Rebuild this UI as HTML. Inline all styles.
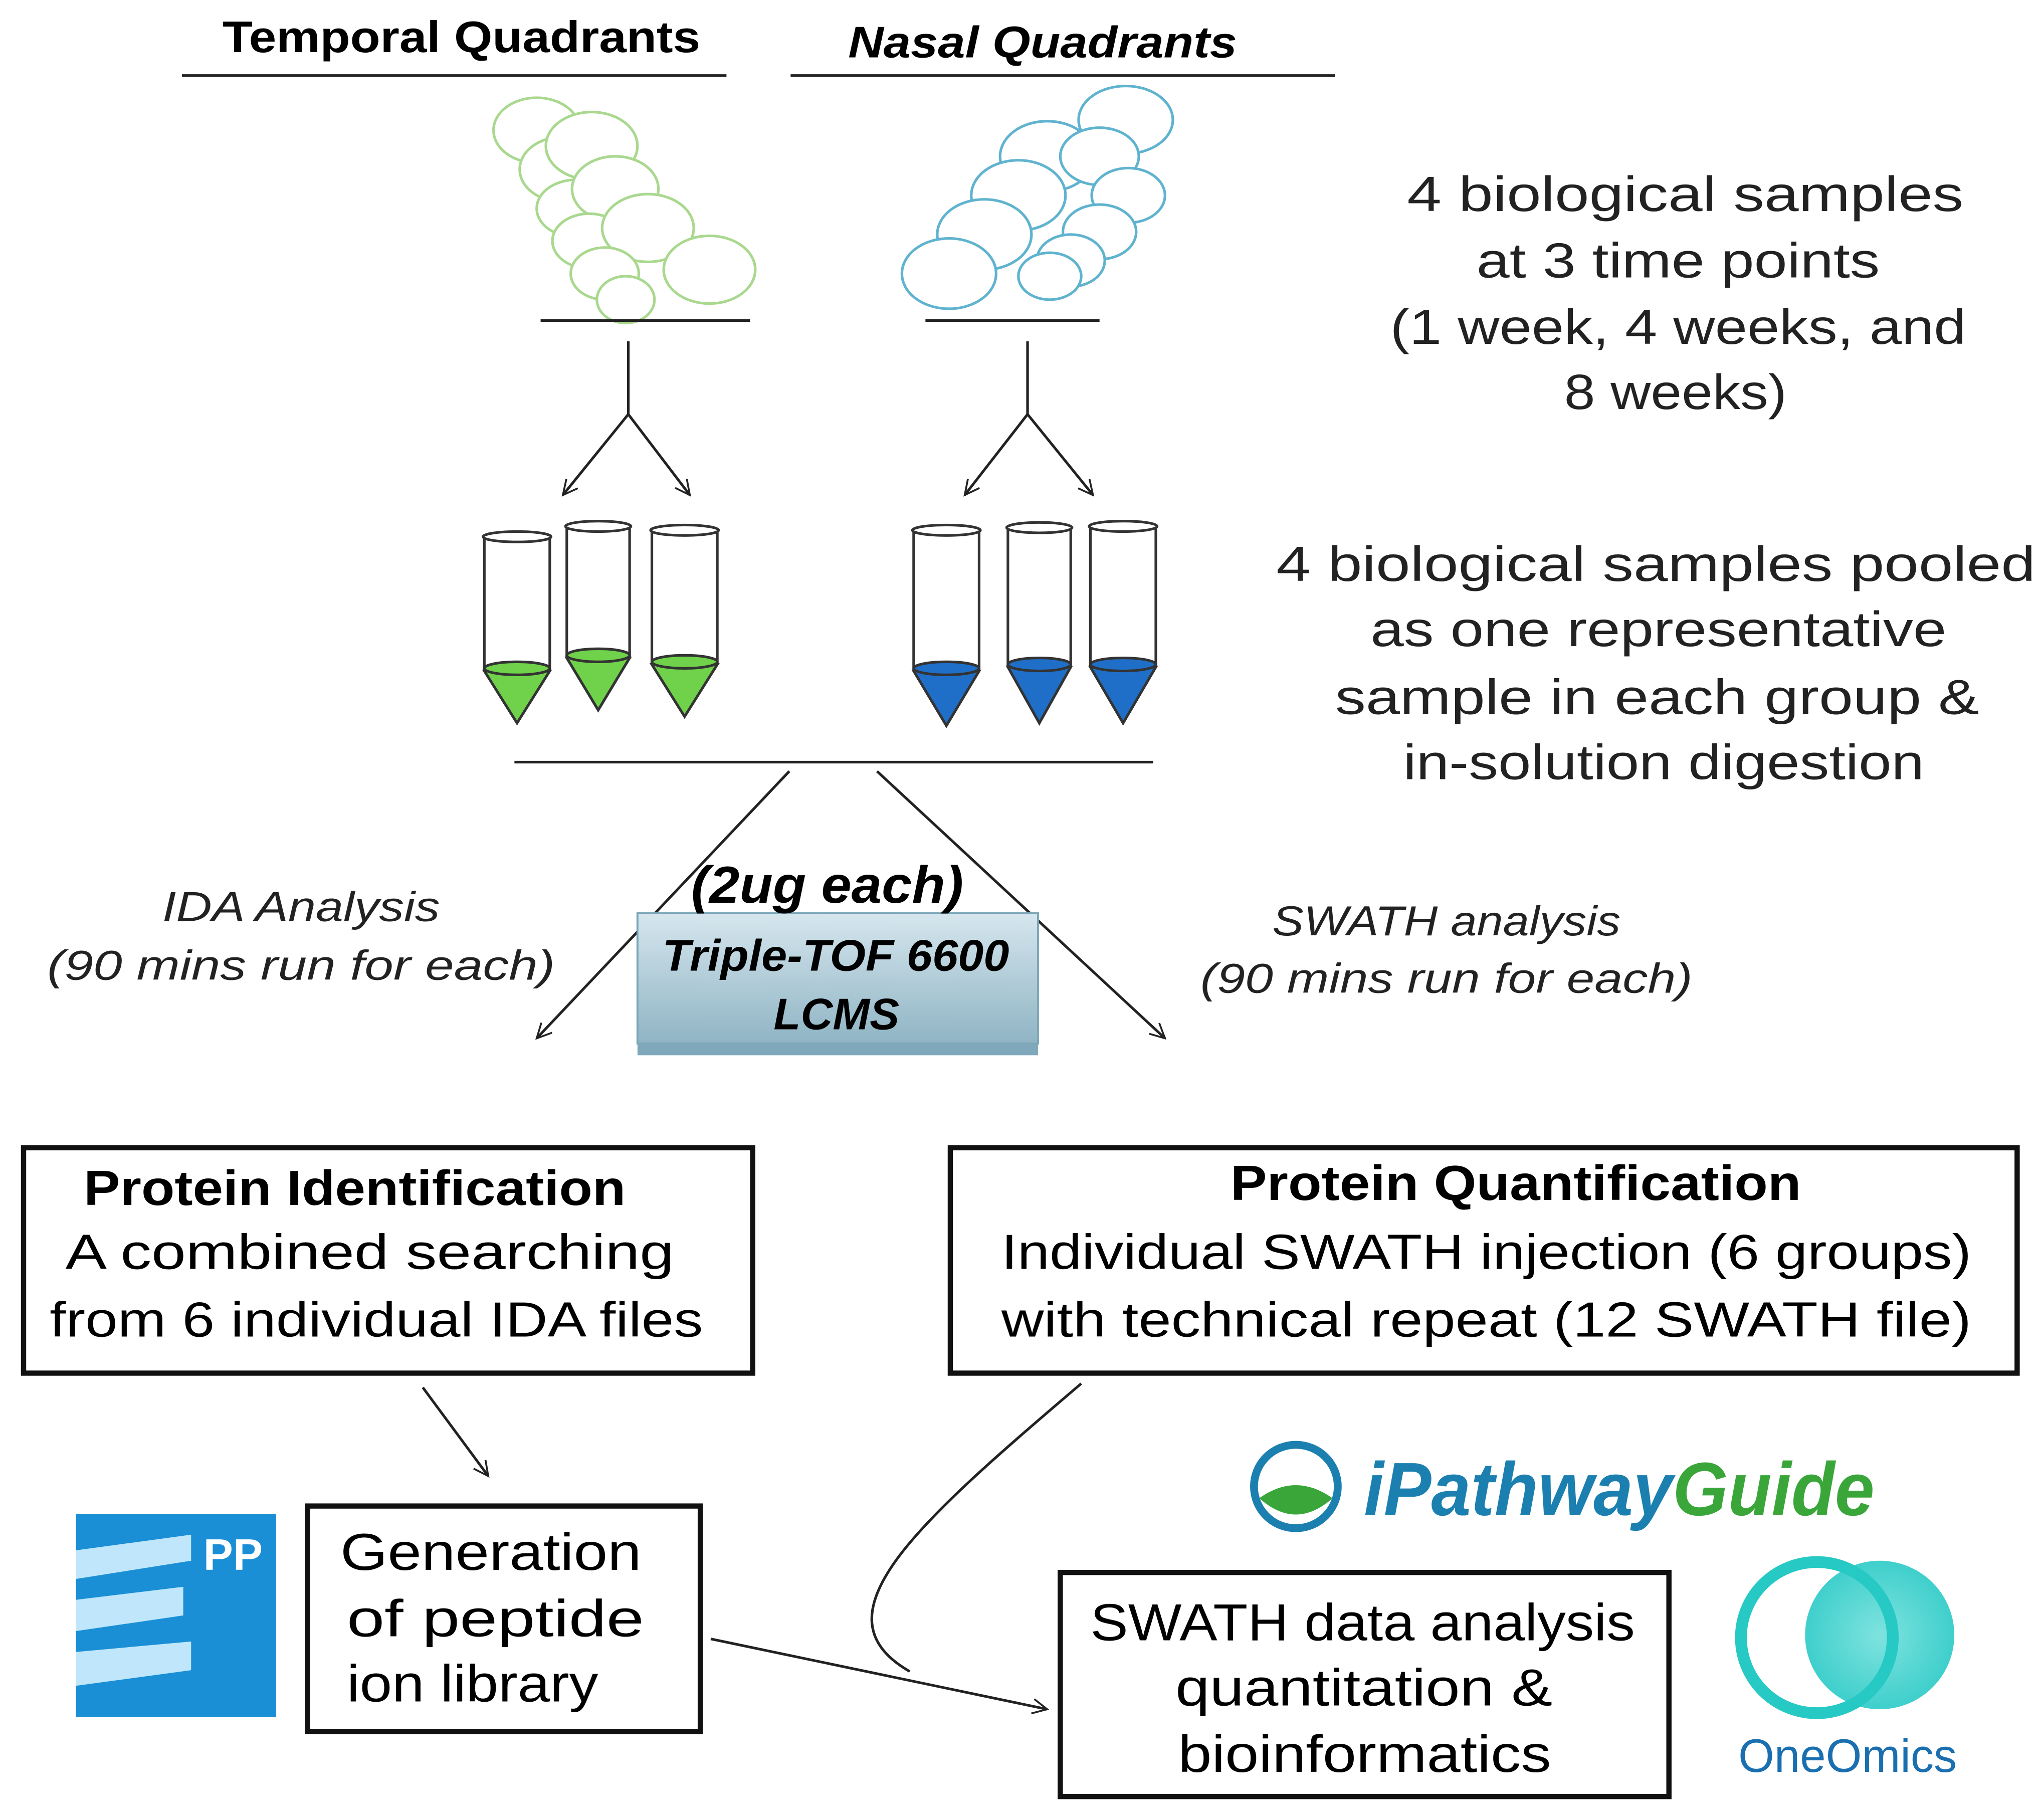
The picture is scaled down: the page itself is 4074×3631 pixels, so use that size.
<!DOCTYPE html>
<html><head><meta charset="utf-8"><style>
html,body{margin:0;padding:0;background:#fff;}
svg{display:block;}
text{font-family:"Liberation Sans",sans-serif;}
</style></head><body>
<svg width="4074" height="3631" viewBox="0 0 1560 1397" preserveAspectRatio="none" xmlns="http://www.w3.org/2000/svg">
<defs>
<marker id="ah" viewBox="0 0 20 20" refX="18" refY="10" markerWidth="14" markerHeight="14" orient="auto" markerUnits="userSpaceOnUse">
<path d="M2,2 L18,10 L2,18" fill="none" stroke="#222" stroke-width="2"/></marker>
<linearGradient id="bx" x1="0" y1="0" x2="0" y2="1"><stop offset="0" stop-color="#d6e6ee"/><stop offset="1" stop-color="#8fb4c4"/></linearGradient>
<radialGradient id="om" cx="0.5" cy="0.5" r="0.5"><stop offset="0" stop-color="#7fe3df"/><stop offset="1" stop-color="#3fcfcc"/></radialGradient>
</defs>
<g lengthAdjust="spacingAndGlyphs">
<text x="170" y="40" font-size="34" font-weight="bold" textLength="365" lengthAdjust="spacingAndGlyphs">Temporal Quadrants</text>
<text x="648" y="44" font-size="34" font-weight="bold" font-style="italic" textLength="297" lengthAdjust="spacingAndGlyphs">Nasal Quadrants</text>
</g>
<line x1="139" y1="58" x2="555" y2="58" stroke="#222" stroke-width="2"/>
<line x1="604" y1="58" x2="1020" y2="58" stroke="#222" stroke-width="2"/>
<!-- green discs -->
<g fill="#fff" stroke="#a9d88e" stroke-width="2">
<ellipse cx="410" cy="100" rx="33" ry="25"/><ellipse cx="430" cy="130" rx="33" ry="25"/><ellipse cx="452" cy="112" rx="35" ry="26"/>
<ellipse cx="440" cy="160" rx="30" ry="22"/><ellipse cx="470" cy="145" rx="33" ry="25"/><ellipse cx="450" cy="185" rx="28" ry="21"/>
<ellipse cx="495" cy="175" rx="35" ry="26"/><ellipse cx="462" cy="210" rx="26" ry="20"/><ellipse cx="542" cy="207" rx="35" ry="26"/><ellipse cx="478" cy="230" rx="22" ry="18"/>
</g>
<line x1="413" y1="246" x2="573" y2="246" stroke="#222" stroke-width="2"/>
<g fill="#fff" stroke="#5fb3cf" stroke-width="2">
<ellipse cx="860" cy="92" rx="36" ry="26"/><ellipse cx="800" cy="120" rx="36" ry="27"/><ellipse cx="840" cy="120" rx="30" ry="22"/>
<ellipse cx="778" cy="150" rx="36" ry="27"/><ellipse cx="862" cy="150" rx="28" ry="21"/><ellipse cx="752" cy="180" rx="36" ry="27"/>
<ellipse cx="840" cy="178" rx="28" ry="21"/><ellipse cx="725" cy="210" rx="36" ry="27"/><ellipse cx="818" cy="200" rx="26" ry="20"/><ellipse cx="802" cy="212" rx="24" ry="18"/>
</g>
<line x1="707" y1="246" x2="840" y2="246" stroke="#222" stroke-width="2"/>
<g stroke="#222" stroke-width="2" fill="none">
<path d="M480,262 V318"/><path d="M480,318 L430,380" marker-end="url(#ah)"/><path d="M480,318 L527,380" marker-end="url(#ah)"/>
<path d="M785,262 V318"/><path d="M785,318 L737,380" marker-end="url(#ah)"/><path d="M785,318 L835,380" marker-end="url(#ah)"/>
</g>
<g stroke="#333" stroke-width="2">
<g fill="#6fd24a">
<path d="M370,412 V515 L395,555 L420,515 V412" fill="#fff"/><path d="M370,515 L395,555 L420,515 Z"/><ellipse cx="395" cy="412" rx="26" ry="4" fill="#fff"/><ellipse cx="395" cy="513" rx="25" ry="5"/>
<path d="M433,404 V505 L457,545 L481,505 V404" fill="#fff"/><path d="M433,505 L457,545 L481,505 Z"/><ellipse cx="457" cy="404" rx="25" ry="4" fill="#fff"/><ellipse cx="457" cy="503" rx="24" ry="5"/>
<path d="M498,407 V510 L523,550 L548,510 V407" fill="#fff"/><path d="M498,510 L523,550 L548,510 Z"/><ellipse cx="523" cy="407" rx="26" ry="4" fill="#fff"/><ellipse cx="523" cy="508" rx="25" ry="5"/>
</g>
<g fill="#1f6fc8">
<path d="M698,407 V515 L723,557 L748,515 V407" fill="#fff"/><path d="M698,515 L723,557 L748,515 Z"/><ellipse cx="723" cy="407" rx="26" ry="4" fill="#fff"/><ellipse cx="723" cy="513" rx="25" ry="5"/>
<path d="M770,405 V512 L794,555 L818,512 V405" fill="#fff"/><path d="M770,512 L794,555 L818,512 Z"/><ellipse cx="794" cy="405" rx="25" ry="4" fill="#fff"/><ellipse cx="794" cy="510" rx="24" ry="5"/>
<path d="M833,404 V512 L858,555 L883,512 V404" fill="#fff"/><path d="M833,512 L858,555 L883,512 Z"/><ellipse cx="858" cy="404" rx="26" ry="4" fill="#fff"/><ellipse cx="858" cy="510" rx="25" ry="5"/>
</g>
</g>
<line x1="393" y1="585" x2="881" y2="585" stroke="#222" stroke-width="2"/>
<g font-size="38" fill="#222">
<text x="1075" y="162" textLength="425" lengthAdjust="spacingAndGlyphs">4 biological  samples</text>
<text x="1128" y="213" textLength="308" lengthAdjust="spacingAndGlyphs">at 3 time points</text>
<text x="1062" y="264" textLength="440" lengthAdjust="spacingAndGlyphs">(1 week, 4 weeks, and</text>
<text x="1195" y="314" textLength="170" lengthAdjust="spacingAndGlyphs">8 weeks)</text>
<text x="975" y="446" textLength="580" lengthAdjust="spacingAndGlyphs">4 biological  samples pooled</text>
<text x="1047" y="496" textLength="440" lengthAdjust="spacingAndGlyphs">as one representative</text>
<text x="1020" y="548" textLength="492" lengthAdjust="spacingAndGlyphs">sample in each group &amp;</text>
<text x="1072" y="598" textLength="398" lengthAdjust="spacingAndGlyphs">in-solution digestion</text>
</g>
<g stroke="#222" stroke-width="2" fill="none">
<path d="M603,592 L410,797" marker-end="url(#ah)"/><path d="M670,592 L890,797" marker-end="url(#ah)"/>
</g>
<rect x="487" y="701" width="306" height="100" fill="url(#bx)" stroke="#7aa6b8" stroke-width="1.5"/>
<rect x="487" y="801" width="306" height="9" fill="#7fa9bb"/>
<text x="506" y="745" font-size="34" font-weight="bold" font-style="italic" textLength="265" lengthAdjust="spacingAndGlyphs">Triple-TOF 6600</text>
<text x="591" y="790" font-size="34" font-weight="bold" font-style="italic" textLength="96" lengthAdjust="spacingAndGlyphs">LCMS</text>
<text x="528" y="693" font-size="40" font-weight="bold" font-style="italic" textLength="208" lengthAdjust="spacingAndGlyphs">(2ug each)</text>
<g font-size="32" font-style="italic" fill="#222">
<text x="124" y="707" textLength="212" lengthAdjust="spacingAndGlyphs">IDA Analysis</text>
<text x="36" y="752" textLength="388" lengthAdjust="spacingAndGlyphs">(90 mins run for  each)</text>
<text x="972" y="718" textLength="266" lengthAdjust="spacingAndGlyphs">SWATH analysis</text>
<text x="917" y="762" textLength="376" lengthAdjust="spacingAndGlyphs">(90 mins run for each)</text>
</g>
<rect x="18" y="881" width="557" height="173" fill="none" stroke="#111" stroke-width="4"/>
<text x="64" y="925" font-size="38" font-weight="bold" textLength="414" lengthAdjust="spacingAndGlyphs">Protein Identification</text>
<text x="50" y="974" font-size="38" textLength="465" lengthAdjust="spacingAndGlyphs">A combined searching</text>
<text x="38" y="1026" font-size="38" textLength="499" lengthAdjust="spacingAndGlyphs">from 6 individual IDA files</text>
<rect x="726" y="881" width="815" height="173" fill="none" stroke="#111" stroke-width="4"/>
<text x="940" y="921" font-size="38" font-weight="bold" textLength="436" lengthAdjust="spacingAndGlyphs">Protein Quantification</text>
<text x="765" y="974" font-size="38" textLength="741" lengthAdjust="spacingAndGlyphs">Individual SWATH injection (6 groups)</text>
<text x="765" y="1026" font-size="38" textLength="741" lengthAdjust="spacingAndGlyphs">with technical repeat (12 SWATH file)</text>
<g stroke="#222" stroke-width="2" fill="none">
<path d="M323,1065 L373,1133" marker-end="url(#ah)"/>
<path d="M826,1062 C700,1170 620,1240 695,1283"/>
<path d="M543,1258 L800,1312" marker-end="url(#ah)"/>
</g>
<rect x="58" y="1162" width="153" height="156" fill="#1a8fd6"/>
<g fill="#bfe6fb"><polygon points="58,1190 146,1178 146,1198 58,1212"/><polygon points="58,1228 140,1218 140,1240 58,1252"/><polygon points="58,1268 146,1260 146,1282 58,1294"/></g>
<text x="178" y="1205" font-size="34" font-weight="bold" fill="#fff" text-anchor="middle">PP</text>
<rect x="235" y="1156" width="300" height="173" fill="none" stroke="#111" stroke-width="4"/>
<text x="260" y="1205" font-size="40" textLength="230" lengthAdjust="spacingAndGlyphs">Generation</text>
<text x="265" y="1256" font-size="40" textLength="227" lengthAdjust="spacingAndGlyphs">of  peptide</text>
<text x="265" y="1306" font-size="40" textLength="192" lengthAdjust="spacingAndGlyphs">ion library</text>
<circle cx="990" cy="1141" r="32" fill="#fff" stroke="#1b7fb0" stroke-width="6"/>
<path d="M962,1150 Q990,1130 1018,1150 Q990,1175 962,1150Z" fill="#3aa63a"/>
<text x="1042" y="1163" font-size="58" font-weight="bold" font-style="italic" fill="#1b7fb0" textLength="390" lengthAdjust="spacingAndGlyphs">iPathway<tspan fill="#3aa63a">Guide</tspan></text>
<rect x="810" y="1207" width="465" height="172" fill="none" stroke="#111" stroke-width="4"/>
<text x="833" y="1259" font-size="40" textLength="416" lengthAdjust="spacingAndGlyphs">SWATH data analysis</text>
<text x="898" y="1309" font-size="40" textLength="288" lengthAdjust="spacingAndGlyphs">quantitation &amp;</text>
<text x="900" y="1360" font-size="40" textLength="285" lengthAdjust="spacingAndGlyphs">bioinformatics</text>
<circle cx="1436" cy="1255" r="57" fill="url(#om)"/>
<circle cx="1388" cy="1257" r="58" fill="none" stroke="#26c9c3" stroke-width="9"/>
<text x="1328" y="1360" font-size="36" fill="#1a6fb0" textLength="167" lengthAdjust="spacingAndGlyphs">OneOmics</text>
</svg>
</body></html>
